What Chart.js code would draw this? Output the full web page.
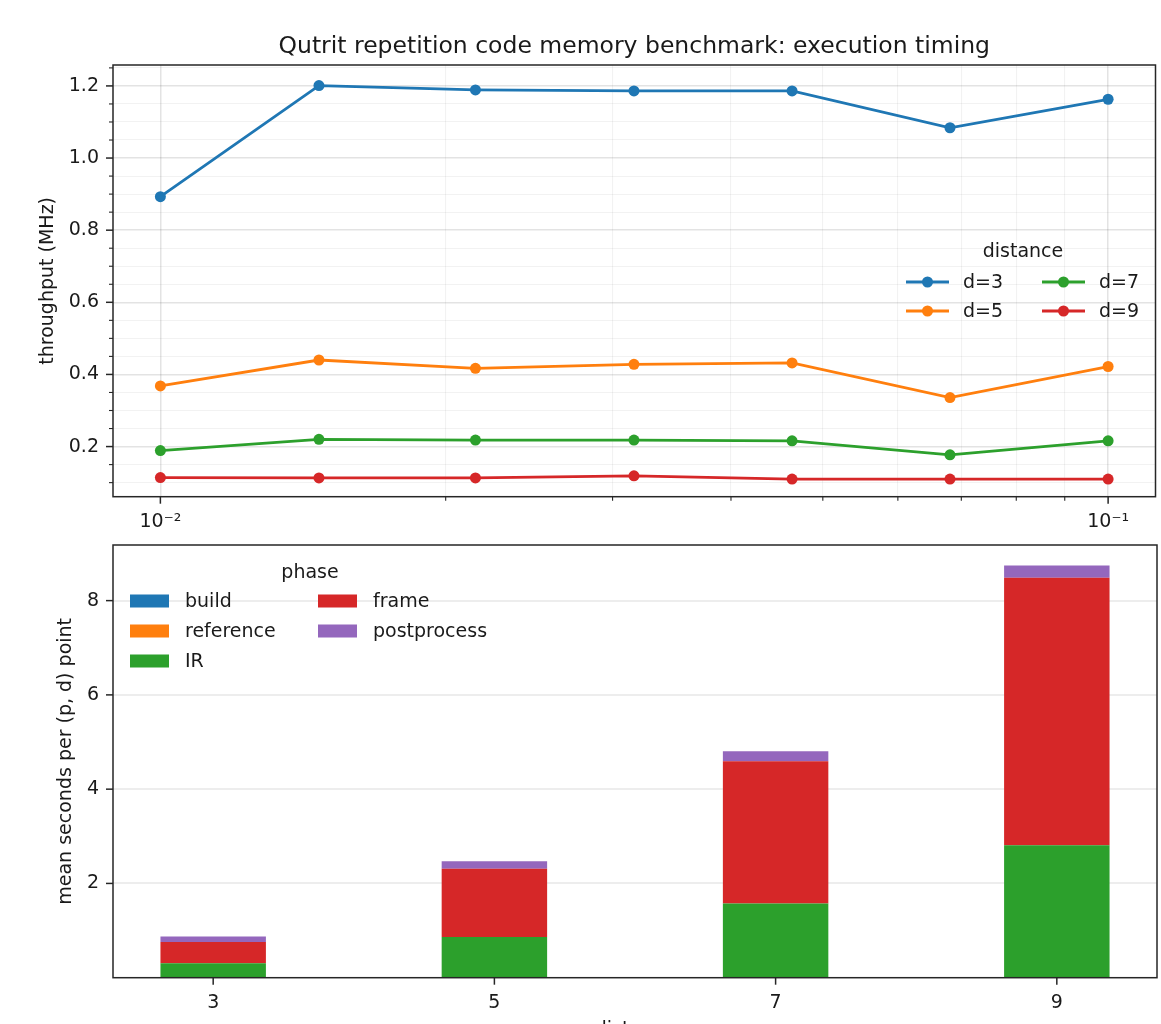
<!DOCTYPE html>
<html>
<head>
<meta charset="utf-8">
<script src="https://cdn.jsdelivr.net/npm/chart.js@4.4.1/dist/chart.umd.min.js"></script>
<style>
  html, body { margin: 0; padding: 0; background: #fff; overflow: hidden; }
  #wrap { position: relative; width: 1161px; height: 1024px; overflow: hidden; }
  #topBox { position: absolute; left: 0; top: 0; width: 1161px; height: 530px; }
  #botBox { position: absolute; left: 0; top: 530px; width: 1161px; height: 530px; }
</style>
</head>
<body>
<div id="wrap">
  <div id="topBox"><canvas id="cTop" width="1161" height="530"></canvas></div>
  <div id="botBox"><canvas id="cBot" width="1161" height="530"></canvas></div>
</div>
<script>
// ---- data ----
const chartTitle = 'Qutrit repetition code memory benchmark: execution timing';

// top panel: throughput vs physical error rate p
const errorRates = [0.01, 0.0147, 0.0215, 0.0316, 0.0464, 0.0681, 0.1];
const distanceLabels = ['d=3', 'd=5', 'd=7', 'd=9'];
const throughputD3 = [0.893, 1.201, 1.189, 1.186, 1.186, 1.084, 1.163];
const throughputD5 = [0.368, 0.440, 0.417, 0.428, 0.432, 0.336, 0.422];
const throughputD7 = [0.189, 0.220, 0.218, 0.218, 0.216, 0.177, 0.216];
const throughputD9 = [0.114, 0.113, 0.113, 0.119, 0.110, 0.110, 0.110];
const xTopMajor = [0.01, 0.1];
const xTopTickLabels = ['10\u207B\u00B2', '10\u207B\u00B9'];
const yTopTickLabels = ['0.2', '0.4', '0.6', '0.8', '1.0', '1.2'];

// bottom panel: mean seconds per (p, d) point, stacked by phase
const distances = [3, 5, 7, 9];
const phaseNames = ['build', 'reference', 'IR', 'frame', 'postprocess'];
const buildSec = [0.002, 0.003, 0.004, 0.005];
const referenceSec = [0.001, 0.002, 0.002, 0.003];
const irSec = [0.306, 0.859, 1.568, 2.802];
const frameSec = [0.447, 1.447, 3.017, 5.675];
const postprocessSec = [0.119, 0.162, 0.212, 0.261];
const yBotTickLabels = ['2', '4', '6', '8'];

// ---- style ----
const COLORS = ['#1f77b4', '#ff7f0e', '#2ca02c', '#d62728', '#9467bd'];
const FONT = "'DejaVu Sans', sans-serif";
const INK = '#1a1a1a';
const SPINE = '#262626';
const GRID_MAJOR = 'rgba(0,0,0,0.11)';
const GRID_MINOR = 'rgba(0,0,0,0.05)';

// tick lists (major + minor) for the top panel
const xTopTicks = [];
for (let dec = 0; dec < xTopMajor.length; dec++) {
  xTopTicks.push({ value: xTopMajor[dec], major: true, text: xTopTickLabels[dec] });
  if (dec < xTopMajor.length - 1) {
    for (let m = 2; m <= 9; m++) xTopTicks.push({ value: xTopMajor[dec] * m, major: false, text: '' });
  }
}
const yTopTicks = [];
for (let k = 2; k <= 25; k++) {
  const v = k * 5 / 100;
  const lab = yTopTickLabels.find(t => Math.abs(parseFloat(t) - v) < 1e-9);
  yTopTicks.push({ value: v, major: !!lab, text: lab || '' });
}
const yBotTicks = yBotTickLabels.map(t => ({ value: parseFloat(t), major: true, text: t }));

// draws frame + tick marks (matplotlib style: major longer than minor)
const frameTicks = {
  id: 'frameTicks',
  afterDraw(chart) {
    const ctx = chart.ctx;
    const a = chart.chartArea;
    const sx = chart.scales.x, sy = chart.scales.y;
    ctx.save();
    ctx.strokeStyle = SPINE;
    sx.ticks.forEach(t => {
      const px = sx.getPixelForValue(t.value);
      ctx.lineWidth = t.major ? 1.5 : 1.1;
      ctx.beginPath();
      ctx.moveTo(px, a.bottom);
      ctx.lineTo(px, a.bottom + (t.major ? 7 : 4));
      ctx.stroke();
    });
    sy.ticks.forEach(t => {
      const py = sy.getPixelForValue(t.value);
      ctx.lineWidth = t.major ? 1.5 : 1.1;
      ctx.beginPath();
      ctx.moveTo(a.left, py);
      ctx.lineTo(a.left - (t.major ? 7 : 4), py);
      ctx.stroke();
    });
    ctx.lineWidth = 1.5;
    ctx.strokeRect(a.left, a.top, a.right - a.left, a.bottom - a.top);
    ctx.restore();
  }
};

const topTitle = {
  id: 'topTitle',
  afterDraw(chart) {
    const ctx = chart.ctx;
    const a = chart.chartArea;
    ctx.save();
    ctx.font = '23.5px ' + FONT;
    ctx.fillStyle = INK;
    ctx.textAlign = 'center';
    ctx.textBaseline = 'alphabetic';
    ctx.fillText(chartTitle, (a.left + a.right) / 2, 53);
    ctx.restore();
  }
};

const topLegend = {
  id: 'topLegend',
  afterDraw(chart) {
    const ctx = chart.ctx;
    ctx.save();
    ctx.font = '19px ' + FONT;
    ctx.fillStyle = INK;
    ctx.textBaseline = 'middle';
    ctx.textAlign = 'center';
    ctx.fillText('distance', 1023, 252);
    const colX = [906, 1042], rowY = [282, 311];
    chart.data.datasets.forEach((ds, i) => {
      const x0 = colX[Math.floor(i / 2)], y0 = rowY[i % 2];
      ctx.strokeStyle = ds.borderColor;
      ctx.lineWidth = 2.8;
      ctx.beginPath();
      ctx.moveTo(x0, y0);
      ctx.lineTo(x0 + 43, y0);
      ctx.stroke();
      ctx.fillStyle = ds.borderColor;
      ctx.beginPath();
      ctx.arc(x0 + 21.5, y0, 5.5, 0, Math.PI * 2);
      ctx.fill();
      ctx.fillStyle = INK;
      ctx.textAlign = 'left';
      ctx.fillText(ds.label, x0 + 57, y0 + 1);
    });
    ctx.restore();
  }
};

const botLegend = {
  id: 'botLegend',
  afterDraw(chart) {
    const ctx = chart.ctx;
    const off = 530; // canvas top on the page
    ctx.save();
    ctx.font = '19px ' + FONT;
    ctx.fillStyle = INK;
    ctx.textBaseline = 'middle';
    ctx.textAlign = 'center';
    ctx.fillText('phase', 310, 573 - off);
    const colX = [130, 318], rowY = [601, 631, 661];
    chart.data.datasets.forEach((ds, i) => {
      const x0 = colX[Math.floor(i / 3)], y0 = rowY[i % 3] - off;
      ctx.fillStyle = ds.backgroundColor;
      ctx.fillRect(x0, y0 - 6.5, 39, 13);
      ctx.fillStyle = INK;
      ctx.textAlign = 'left';
      ctx.fillText(ds.label, x0 + 55, y0 + 1);
    });
    ctx.restore();
  }
};

function tickOpts(extra) {
  return Object.assign({
    autoSkip: false,
    maxRotation: 0,
    minRotation: 0,
    padding: 14,
    color: INK,
    font: { family: FONT, size: 19 },
    callback: (v, i, ticks) => ticks[i].text
  }, extra || {});
}

// y axes: fixed width, no extra label margins
function fitY(s) {
  s.width = 113;
  s.paddingTop = 0;
  s.paddingBottom = 0;
}

// ---- top chart ----
const seriesTop = [throughputD3, throughputD5, throughputD7, throughputD9];
new Chart(document.getElementById('cTop'), {
  type: 'line',
  data: {
    datasets: seriesTop.map((vals, k) => ({
      label: distanceLabels[k],
      data: errorRates.map((p, i) => ({ x: p, y: vals[i] })),
      borderColor: COLORS[k],
      backgroundColor: COLORS[k],
      pointBackgroundColor: COLORS[k],
      borderWidth: 2.8,
      pointRadius: 5.5,
      pointBorderWidth: 0,
      tension: 0
    }))
  },
  options: {
    responsive: false,
    animation: false,
    events: [],
    layout: { padding: { top: 65, right: 4, left: 0, bottom: 0 } },
    plugins: { legend: { display: false }, title: { display: false }, tooltip: { enabled: false } },
    scales: {
      x: {
        type: 'logarithmic',
        min: Math.pow(10, -2.05),
        max: Math.pow(10, -0.95),
        afterBuildTicks: s => { s.ticks = xTopTicks.map(t => Object.assign({}, t)); },
        afterFit: s => { s.height = 33.3; },
        ticks: tickOpts(),
        grid: {
          drawTicks: false,
          color: c => (c.tick && c.tick.major ? GRID_MAJOR : GRID_MINOR),
          lineWidth: c => (c.tick && c.tick.major ? 1.5 : 1.1)
        },
        border: { display: false }
      },
      y: {
        type: 'linear',
        min: 0.061,
        max: 1.258,
        afterBuildTicks: s => { s.ticks = yTopTicks.map(t => Object.assign({}, t)); },
        afterFit: fitY,
        ticks: tickOpts(),
        grid: {
          drawTicks: false,
          color: c => (c.tick && c.tick.major ? GRID_MAJOR : GRID_MINOR),
          lineWidth: c => (c.tick && c.tick.major ? 1.5 : 1.1)
        },
        border: { display: false },
        title: {
          display: true,
          text: 'throughput (MHz)',
          color: INK,
          font: { family: FONT, size: 19 },
          padding: { top: 37, bottom: 0 }
        }
      }
    }
  },
  plugins: [frameTicks, topTitle, topLegend]
});

// ---- bottom chart ----
const phaseSeries = [buildSec, referenceSec, irSec, frameSec, postprocessSec];
new Chart(document.getElementById('cBot'), {
  type: 'bar',
  data: {
    datasets: phaseSeries.map((vals, k) => ({
      label: phaseNames[k],
      data: distances.map((d, i) => ({ x: d, y: vals[i] })),
      backgroundColor: COLORS[k],
      borderWidth: 0,
      barPercentage: 0.375,
      categoryPercentage: 1
    }))
  },
  options: {
    responsive: false,
    animation: false,
    events: [],
    layout: { padding: { top: 15, right: 4, left: 0, bottom: 0 } },
    plugins: { legend: { display: false }, title: { display: false }, tooltip: { enabled: false } },
    scales: {
      x: {
        type: 'linear',
        stacked: true,
        min: 2.2875,
        max: 9.7125,
        offset: false,
        afterBuildTicks: s => { s.ticks = distances.map(d => ({ value: d, major: true, text: String(d) })); },
        afterFit: s => { s.height = 82.3; },
        ticks: tickOpts(),
        grid: { display: false, drawTicks: false },
        border: { display: false },
        title: {
          display: true,
          text: 'distance',
          color: INK,
          font: { family: FONT, size: 19 },
          padding: { top: 0, bottom: 18.6 }
        }
      },
      y: {
        type: 'linear',
        stacked: true,
        min: 0,
        max: 9.18,
        z: 1,
        afterBuildTicks: s => { s.ticks = yBotTicks.map(t => Object.assign({}, t)); },
        afterFit: fitY,
        ticks: tickOpts(),
        grid: { drawTicks: false, color: 'rgba(0,0,0,0.07)', lineWidth: 2 },
        border: { display: false },
        title: {
          display: true,
          text: 'mean seconds per (p, d) point',
          color: INK,
          font: { family: FONT, size: 19 },
          padding: { top: 55, bottom: 0 }
        }
      }
    }
  },
  plugins: [frameTicks, botLegend]
});
</script>
</body>
</html>
